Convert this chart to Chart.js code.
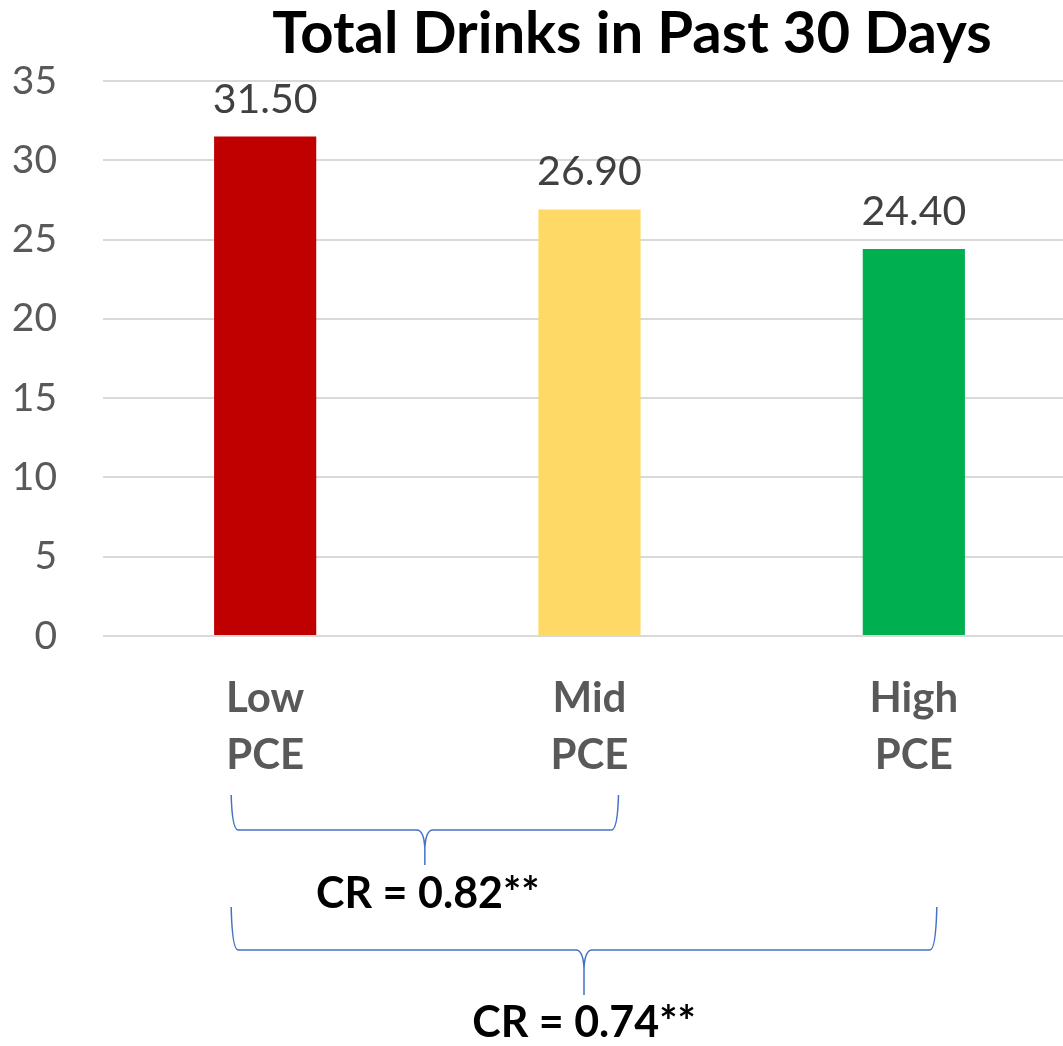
<!DOCTYPE html>
<html>
<head>
<meta charset="utf-8">
<script src="https://cdn.jsdelivr.net/npm/chart.js@4.4.0/dist/chart.umd.min.js"></script>
<style>
  html, body { margin: 0; padding: 0; background: #fff; overflow: hidden; }
  #wrap { width: 1076px; height: 1046px; }
</style>
</head>
<body>
<div id="wrap"><canvas id="drinksChart" width="1076" height="1046"></canvas></div>
<script>
// data
const titleText = 'Total Drinks in Past 30 Days';
const categories = [['Low', 'PCE'], ['Mid', 'PCE'], ['High', 'PCE']];
const drinks = [31.5, 26.9, 24.4];
const barColors = ['#C00000', '#FFD966', '#00B050'];
const yMax = 35;
const yStep = 5;
const compareFrom = [0, 0];
const compareTo = [1, 2];
const compareLabels = ['CR = 0.82**', 'CR = 0.74**'];

const FONT = 'Lato, "Open Sans", sans-serif';

// title, value labels and the braces under the axis
const extras = {
    id: 'extras',
    afterDraw(chart) {
        const c = chart.ctx;
        const x = chart.scales.x;
        c.save();

        c.fillStyle = '#000';
        c.font = 'bold 58px ' + FONT;
        c.textAlign = 'center';
        c.textBaseline = 'alphabetic';
        c.fillText(titleText, 632, 53);

        // value labels
        c.fillStyle = '#404040';
        c.font = '41px ' + FONT;
        chart.getDatasetMeta(0).data.forEach((bar, i) => {
            c.fillText(drinks[i].toFixed(2), bar.x, bar.y - 24);
        });

        // braces
        const rows = [
            { top: 795, mid: 830, tip: 865, text: 908 },
            { top: 907, mid: 950, tip: 995, text: 1037 }
        ];
        c.strokeStyle = '#4472C4';
        c.lineWidth = 1.5;
        compareLabels.forEach((label, k) => {
            const r = rows[k];
            const x1 = x.getPixelForValue(compareFrom[k]) - 34;
            const x2 = x.getPixelForValue(compareTo[k]) + (k === 0 ? 29 : 23);
            const xc = (x1 + x2) / 2;
            c.beginPath();
            c.moveTo(x1, r.top);
            c.quadraticCurveTo(x1 + 1, r.mid, x1 + 7, r.mid);
            c.lineTo(xc - 8, r.mid);
            c.quadraticCurveTo(xc - 1, r.mid, xc, r.mid + 18);
            c.lineTo(xc, r.tip);
            c.moveTo(x2, r.top);
            c.quadraticCurveTo(x2 - 1, r.mid, x2 - 7, r.mid);
            c.lineTo(xc + 8, r.mid);
            c.quadraticCurveTo(xc + 1, r.mid, xc, r.mid + 18);
            c.stroke();

            c.fillStyle = '#000';
            c.font = 'bold 43px ' + FONT;
            c.fillText(label, xc + (k === 0 ? 3 : 0), r.text);
        });
        c.restore();
    }
};

const ctx = document.getElementById('drinksChart').getContext('2d');
new Chart(ctx, {
    type: 'bar',
    data: {
        labels: categories,
        datasets: [{
            data: drinks,
            backgroundColor: barColors,
            categoryPercentage: 1,
            barPercentage: 0.315
        }]
    },
    options: {
        responsive: false,
        animation: false,
        layout: { padding: { top: 81, right: 0, bottom: 0, left: 0 } },
        plugins: {
            legend: { display: false },
            tooltip: { enabled: false }
        },
        scales: {
            x: {
                grid: { display: false },
                border: { display: false },
                ticks: {
                    color: '#595959',
                    padding: 25,
                    font: { family: FONT, size: 42, weight: 'bold', lineHeight: 1.38 }
                },
                afterFit(scale) { scale.height = 410; }
            },
            y: {
                min: 0,
                max: yMax,
                grid: { color: '#D9D9D9', lineWidth: 2, drawTicks: false },
                border: { display: false },
                ticks: {
                    stepSize: yStep,
                    color: '#595959',
                    padding: 46,
                    font: { family: FONT, size: 39 }
                },
                afterFit(scale) { scale.width = 103; }
            }
        }
    },
    plugins: [extras]
});
</script>
</body>
</html>
